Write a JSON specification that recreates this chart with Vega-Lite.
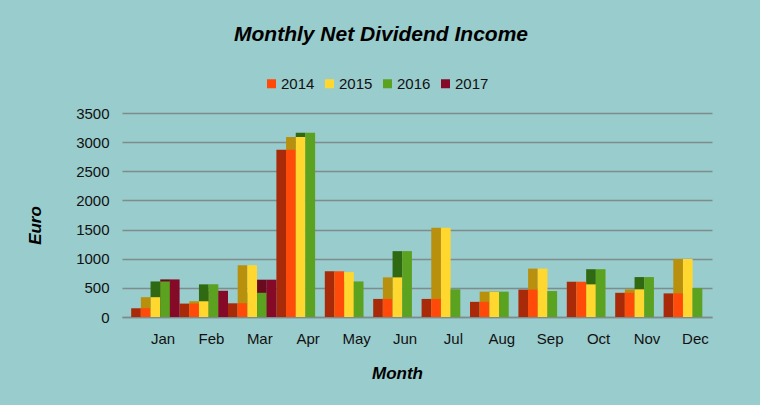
{
  "$schema": "https://vega.github.io/schema/vega-lite/v6.json",
  "width": 590,
  "height": 204,
  "autosize": {"type": "none"},
  "padding": {"left": 122, "top": 113, "right": 48, "bottom": 88},
  "background": "#99CCCC",
  "config": {
    "view": {"stroke": null},
    "font": "Liberation Sans",
    "legend": {"padding": 0}
  },
  "title": {
    "text": "Monthly Net Dividend Income",
    "font": "Liberation Sans",
    "fontSize": 21,
    "fontStyle": "italic",
    "fontWeight": "bold",
    "color": "#000000",
    "anchor": "middle",
    "frame": "group",
    "baseline": "alphabetic",
    "dx": -36,
    "offset": 14
  },
  "data": {
    "values": [
      {"month": "Jan", "year": "2014", "value": 150},
      {"month": "Jan", "year": "2015", "value": 340},
      {"month": "Jan", "year": "2016", "value": 610},
      {"month": "Jan", "year": "2017", "value": 645},
      {"month": "Feb", "year": "2014", "value": 230},
      {"month": "Feb", "year": "2015", "value": 270},
      {"month": "Feb", "year": "2016", "value": 560},
      {"month": "Feb", "year": "2017", "value": 450},
      {"month": "Mar", "year": "2014", "value": 235},
      {"month": "Mar", "year": "2015", "value": 890},
      {"month": "Mar", "year": "2016", "value": 415},
      {"month": "Mar", "year": "2017", "value": 640},
      {"month": "Apr", "year": "2014", "value": 2870},
      {"month": "Apr", "year": "2015", "value": 3090},
      {"month": "Apr", "year": "2016", "value": 3160},
      {"month": "May", "year": "2014", "value": 785},
      {"month": "May", "year": "2015", "value": 770},
      {"month": "May", "year": "2016", "value": 610},
      {"month": "Jun", "year": "2014", "value": 310},
      {"month": "Jun", "year": "2015", "value": 680},
      {"month": "Jun", "year": "2016", "value": 1130},
      {"month": "Jul", "year": "2014", "value": 310},
      {"month": "Jul", "year": "2015", "value": 1530},
      {"month": "Jul", "year": "2016", "value": 475},
      {"month": "Aug", "year": "2014", "value": 260},
      {"month": "Aug", "year": "2015", "value": 435},
      {"month": "Aug", "year": "2016", "value": 435},
      {"month": "Sep", "year": "2014", "value": 470},
      {"month": "Sep", "year": "2015", "value": 830},
      {"month": "Sep", "year": "2016", "value": 445},
      {"month": "Oct", "year": "2014", "value": 605},
      {"month": "Oct", "year": "2015", "value": 560},
      {"month": "Oct", "year": "2016", "value": 820},
      {"month": "Nov", "year": "2014", "value": 415},
      {"month": "Nov", "year": "2015", "value": 475},
      {"month": "Nov", "year": "2016", "value": 685},
      {"month": "Dec", "year": "2014", "value": 405},
      {"month": "Dec", "year": "2015", "value": 995},
      {"month": "Dec", "year": "2016", "value": 495}
    ]
  },
  "encoding": {
    "x": {
      "field": "month",
      "type": "nominal",
      "sort": ["Jan", "Feb", "Mar", "Apr", "May", "Jun", "Jul", "Aug", "Sep", "Oct", "Nov", "Dec"],
      "scale": {"paddingInner": 0, "paddingOuter": 0.095, "align": 1},
      "axis": {
        "title": "Month",
        "titleFont": "Liberation Sans",
        "titleFontSize": 17,
        "titleFontStyle": "italic",
        "titleFontWeight": "bold",
        "titleColor": "#000000",
        "titleX": 275,
        "titleY": 56,
        "titleBaseline": "middle",
        "titleAlign": "center",
        "labelAngle": 0,
        "labelFontSize": 15,
        "labelColor": "#111111",
        "labelOffset": 7.6,
        "labelPadding": 14,
        "ticks": false,
        "domain": true,
        "domainColor": "#7f8c8d",
        "domainWidth": 1.5,
        "grid": false
      }
    },
    "y": {
      "field": "value",
      "type": "quantitative",
      "scale": {"domain": [0, 3500], "nice": false},
      "axis": {
        "title": "Euro",
        "titleFont": "Liberation Sans",
        "titleFontSize": 17,
        "titleFontStyle": "italic",
        "titleFontWeight": "bold",
        "titleColor": "#000000",
        "titleX": -87,
        "titleY": 112,
        "titleBaseline": "middle",
        "titleAlign": "center",
        "values": [0, 500, 1000, 1500, 2000, 2500, 3000, 3500],
        "format": "d",
        "labelFontSize": 15,
        "labelColor": "#111111",
        "labelPadding": 13,
        "ticks": false,
        "domain": false,
        "grid": true,
        "gridColor": "#7f8c8d",
        "gridWidth": 1.5
      }
    }
  },
  "layer": [
    {
      "mark": {"type": "bar"},
      "encoding": {
        "xOffset": {
          "field": "year",
          "type": "nominal",
          "scale": {"domain": ["2014", "2015", "2016", "2017", "_"], "paddingInner": 0, "paddingOuter": 0}
        },
        "color": {
          "field": "year",
          "type": "nominal",
          "scale": {"domain": ["2014", "2015", "2016", "2017"], "range": ["#A82A08", "#B8900E", "#2F6A12", "#6A0A1E"]},
          "legend": null
        }
      }
    },
    {
      "mark": {"type": "bar"},
      "encoding": {
        "xOffset": {
          "field": "year",
          "type": "nominal",
          "scale": {"domain": ["_", "2014", "2015", "2016", "2017"], "paddingInner": 0, "paddingOuter": 0}
        },
        "color": {
          "field": "year",
          "type": "nominal",
          "scale": {"domain": ["2014", "2015", "2016", "2017"], "range": ["#FF4A0A", "#FFD72E", "#5AA21F", "#850A28"]},
          "legend": {
            "title": null,
            "orient": "none",
            "direction": "horizontal",
            "legendX": 142,
            "legendY": -37,
            "symbolType": "square",
            "symbolSize": 81,
            "symbolStrokeWidth": 0,
            "labelFontSize": 15,
            "labelColor": "#111111",
            "labelOffset": 2,
            "columnPadding": 7
          }
        }
      }
    }
  ],
  "resolve": {"scale": {"color": "independent", "xOffset": "independent"}}
}
